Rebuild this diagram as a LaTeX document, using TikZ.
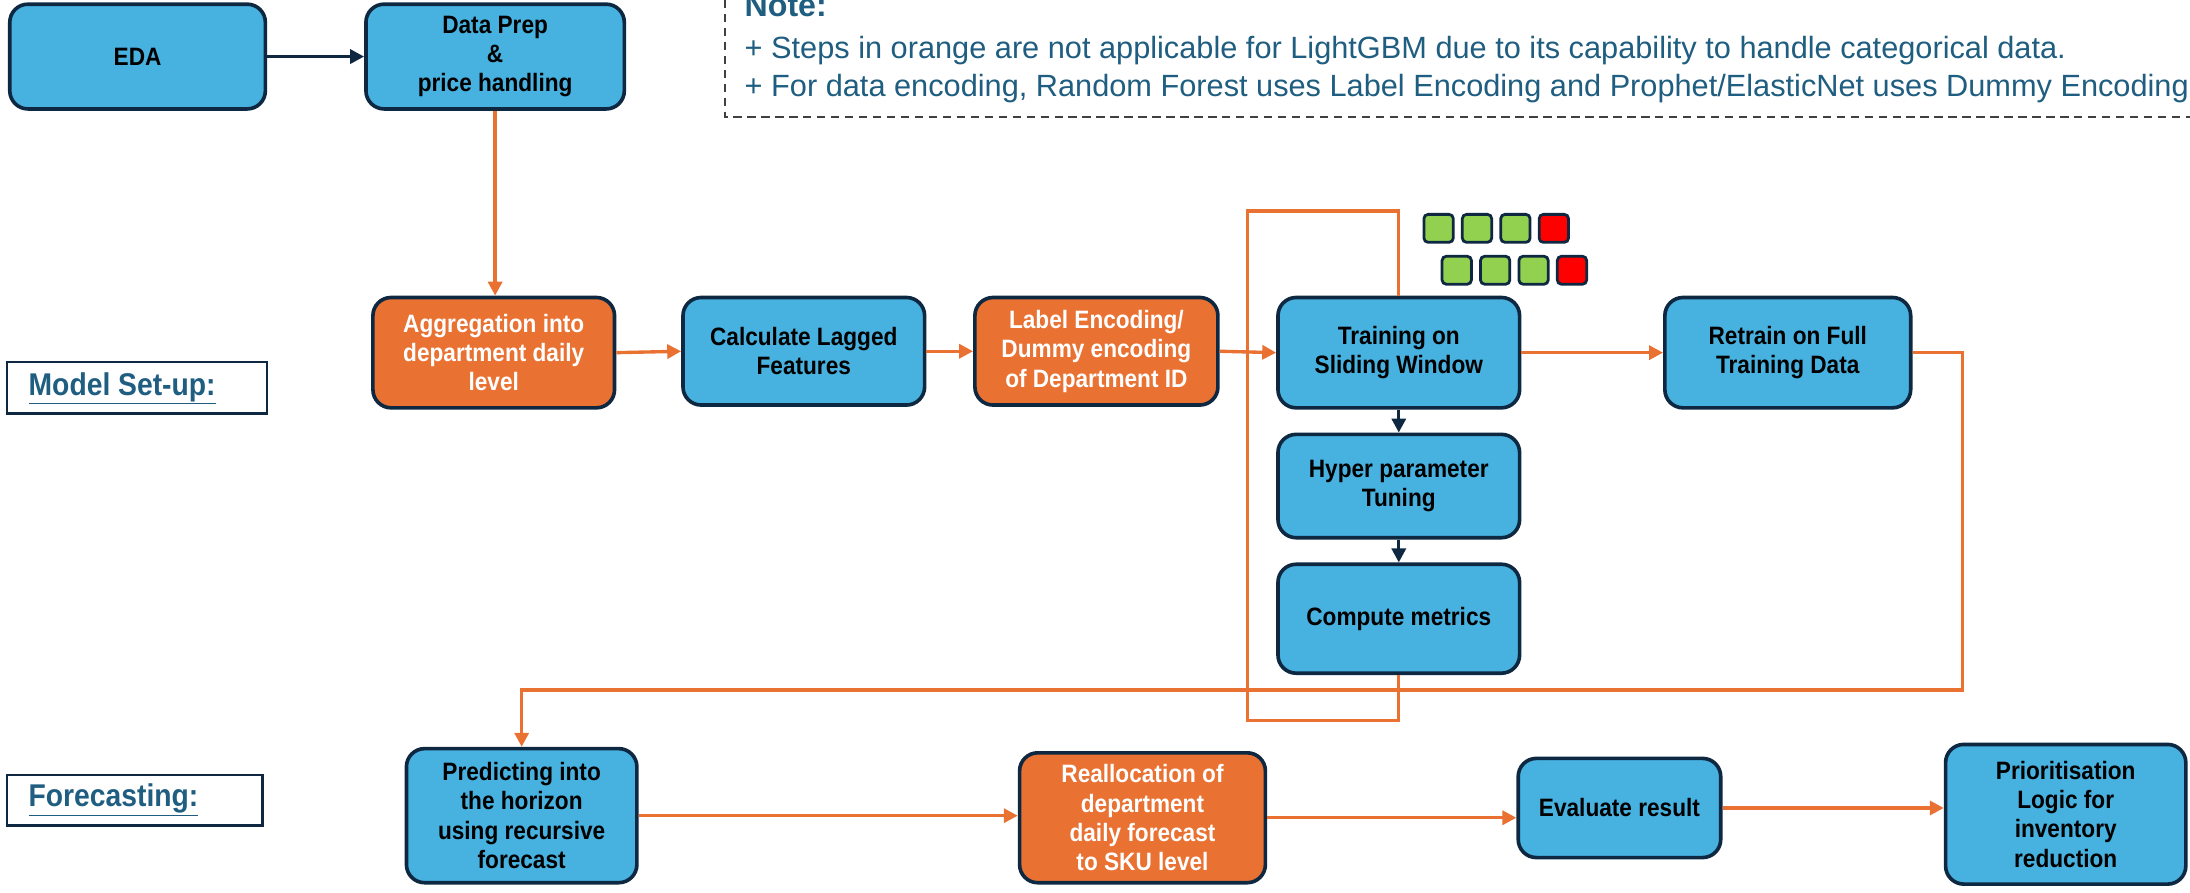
\documentclass[tikz,border=0pt]{standalone}
\usepackage{fontspec}
\setmainfont{Liberation Sans}[FakeStretch=0.9]
\newfontfamily\notefont{Liberation Sans}[FakeStretch=1.0]
\usetikzlibrary{arrows.meta,calc}
\definecolor{boxblue}{HTML}{47B1E0}
\definecolor{boxorange}{HTML}{E97132}
\definecolor{boxline}{HTML}{0E2841}
\definecolor{notecol}{HTML}{1F5E80}
\definecolor{sqgreen}{HTML}{92D050}
\definecolor{sqred}{HTML}{FF0000}
\tikzset{
  proc/.style={draw=boxline, line width=2.6pt, rounded corners=13pt, fill=boxblue, align=center,
    font=\bfseries\fontsize{18}{21}\selectfont, text=black, inner sep=2pt},
  oproc/.style={proc, fill=boxorange, text=white},
  oline/.style={draw=boxorange, line width=2.4pt},
  oarrow/.style={oline, -{Triangle[length=10pt,width=10pt]}},
  darrow/.style={draw=boxline, line width=2.4pt, -{Triangle[length=10pt,width=10pt]}},
  lbl/.style={draw=boxline, line width=1.6pt, fill=white},
  lbltext/.style={font=\bfseries\fontsize{22.5}{25}\selectfont, text=notecol, anchor=west},
  sq/.style={draw=boxline, line width=2pt, rounded corners=3pt, minimum width=21pt, minimum height=20pt, inner sep=0pt},
  notetext/.style={font=\notefont\fontsize{22}{26}\selectfont, text=notecol, anchor=base west, inner sep=0pt}
}
\begin{document}
\begin{tikzpicture}[x=1pt,y=-1pt]
\useasboundingbox (0,0) rectangle (1568,639);
\clip (0,0) rectangle (1568,639);
\fill[white] (0,0) rectangle (1568,639);

% note box
\draw[draw=black!75, line width=1.2pt, dash pattern=on 6pt off 4pt] (519,-10) rectangle (1590,84);
\node[notetext, font=\notefont\bfseries\fontsize{23}{26}\selectfont] (notehead) at (533,12) {Note:};
\node[notetext] (note1) at (533,42) {+ Steps in orange are not applicable for LightGBM due to its capability to handle categorical data.};
\node[notetext] (note2) at (533,69) {+ For data encoding, Random Forest uses Label Encoding and Prophet/ElasticNet uses Dummy Encoding};

% row labels
\draw[lbl] (5,259) rectangle (191,296);
\node[lbltext] (setup) at (17,278) {\underline{Model Set-up:}};
\draw[lbl] (5,555) rectangle (188,591);
\node[lbltext] (fcst) at (17,573) {\underline{Forecasting:}};

% nodes
\node[proc, minimum width=183pt, minimum height=75pt] (eda) at (98.5,40.5) {EDA};
\node[proc, minimum width=185pt, minimum height=75pt] (prep) at (354.5,40.5) {Data Prep\\\&\\price handling};
\node[oproc, minimum width=173pt, minimum height=79pt] (agg) at (353.5,252.5) {Aggregation into\\department daily\\level};
\node[proc, minimum width=173pt, minimum height=77pt] (lag) at (575.5,251.5) {Calculate Lagged\\Features};
\node[oproc, minimum width=174pt, minimum height=77pt] (enc) at (785,251.5) {Label Encoding/\\Dummy encoding\\of Department ID};
\node[proc, minimum width=173pt, minimum height=79pt] (train) at (1001.5,252.5) {Training on\\Sliding Window};
\node[proc, minimum width=176pt, minimum height=79pt] (retrain) at (1280,252.5) {Retrain on Full\\Training Data};
\node[proc, minimum width=173pt, minimum height=74pt] (hyper) at (1001.5,348) {Hyper parameter\\Tuning};
\node[proc, minimum width=173pt, minimum height=78pt] (metrics) at (1001.5,443) {Compute metrics};
\node[proc, minimum width=165pt, minimum height=96pt] (pred) at (373.5,584) {Predicting into\\the horizon\\using recursive\\forecast};
\node[oproc, minimum width=176pt, minimum height=93pt] (realloc) at (818,585.5) {Reallocation of\\department\\daily forecast\\to SKU level};
\node[proc, minimum width=145pt, minimum height=71pt] (eval) at (1159.5,578.5) {Evaluate result};
\node[proc, minimum width=172pt, minimum height=100pt] (prior) at (1479,583) {Prioritisation\\Logic for\\inventory\\reduction};

% squares
\foreach \i/\c in {0/sqgreen,1/sqgreen,2/sqgreen,3/sqred} {
  \node[sq, fill=\c] (sqa\i) at (1030+27.5*\i,163.5) {};
  \node[sq, fill=\c] (sqb\i) at (1043+27.5*\i,193.5) {};
}

% connectors
\draw[darrow] (eda.east) -- (prep.west);
\draw[oarrow] (prep.south) -- (prep.south |- agg.north);
\draw[oarrow] (agg.east) -- (lag.west);
\draw[oarrow] (lag.east) -- (enc.west);
\draw[oarrow] (enc.east) -- (train.west);
\draw[oarrow] (train.east) -- (retrain.west);
\draw[darrow] (train.south) -- (hyper.north);
\draw[darrow] (hyper.south) -- (metrics.north);
\coordinate (loopbot) at (1003,516);
\coordinate (looptop) at (893,151);
\draw[oline] (metrics.south) -- (metrics.south |- loopbot) -| (looptop) -| (train.north);
\coordinate (rturn) at (1405,494);
\draw[oarrow] (retrain.east) -| (rturn) -| (pred.north);
\draw[oarrow] (pred.east) -- (pred.east -| realloc.west);
\draw[oarrow] (realloc.east) -- (realloc.east -| eval.west);
\draw[oarrow] (eval.east) -- (eval.east -| prior.west);
\end{tikzpicture}
\end{document}
